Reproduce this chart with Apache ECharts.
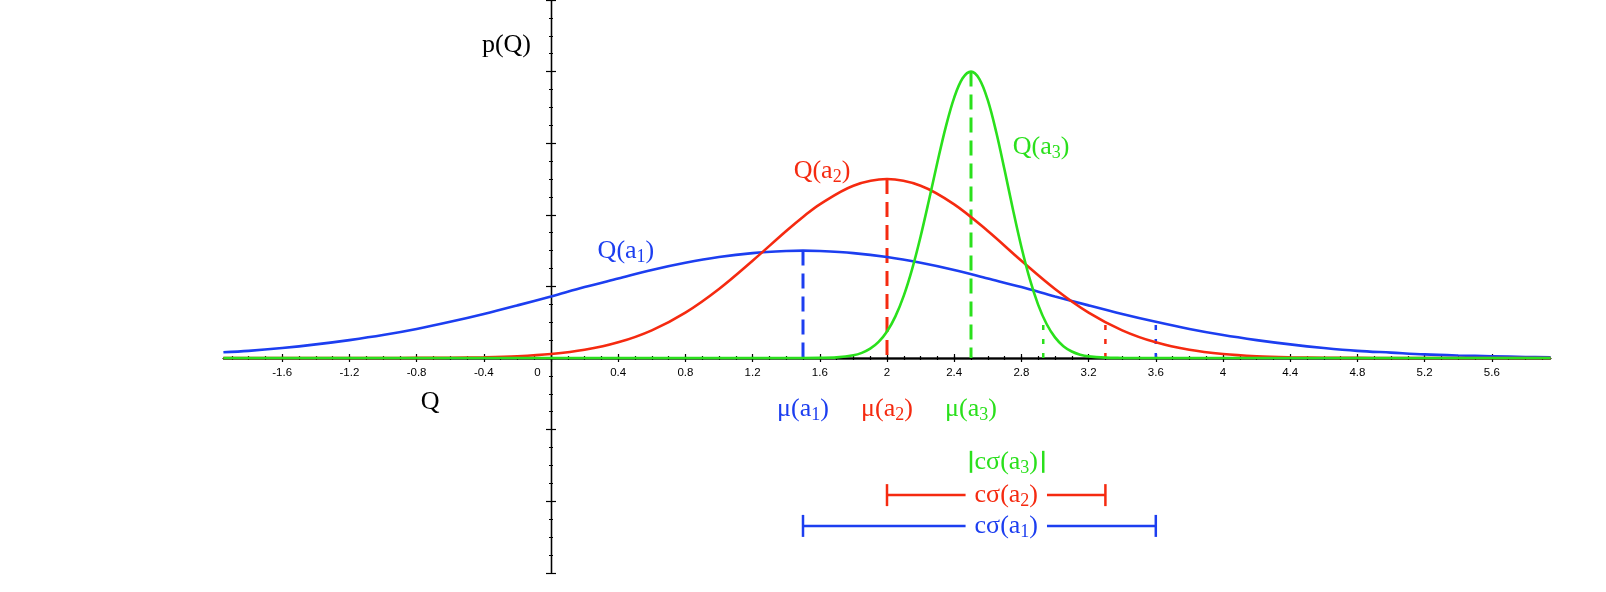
<!DOCTYPE html>
<html>
<head>
<meta charset="utf-8">
<title>p(Q)</title>
<script src="https://cdn.jsdelivr.net/npm/echarts@6/dist/echarts.min.js"></script>
<style>
    html, body { margin: 0; padding: 0; background: #fff; }
    #chart { width: 1606px; height: 592px; }
</style>
</head>
<body>
<div id="chart"></div>
<script>
// sample positions along Q
var qWide = [-1.95, -1.8, -1.6, -1.4, -1.2, -1.0, -0.8, -0.6, -0.4, -0.2,
    0, 0.2, 0.4, 0.6, 0.8, 1.0, 1.2, 1.4, 1.5, 1.6, 1.8, 2.0, 2.2, 2.4, 2.6, 2.8,
    3.0, 3.2, 3.4, 3.6, 3.8, 4.0, 4.2, 4.4, 4.6, 4.8, 5.0, 5.2, 5.4, 5.6, 5.8, 5.95];
var qNarrow = [-1.95, 1.5, 1.6, 1.7, 1.8, 1.85, 1.9, 1.95, 2.0, 2.05, 2.1, 2.15, 2.2,
    2.25, 2.3, 2.35, 2.4, 2.45, 2.5, 2.55, 2.6, 2.65, 2.7, 2.75, 2.8, 2.85, 2.9,
    2.95, 3.0, 3.05, 3.1, 3.15, 3.2, 3.3, 3.4, 3.5, 5.95];

// p(Q) (one major tick = 0.2)
var pA1 = [0.016, 0.020, 0.028, 0.038, 0.050, 0.064, 0.081, 0.101, 0.123, 0.147,
    0.172, 0.198, 0.222, 0.246, 0.266, 0.282, 0.293, 0.299, 0.300, 0.299, 0.293, 0.282,
    0.266, 0.246, 0.222, 0.198, 0.172, 0.147, 0.123, 0.101, 0.081, 0.064, 0.050, 0.038,
    0.028, 0.020, 0.015, 0.010, 0.007, 0.005, 0.003, 0.002];
var pA2 = [0, 0, 0, 0, 0, 0.0001, 0.0003, 0.0008, 0.0021, 0.0050,
    0.0111, 0.0228, 0.0437, 0.0773, 0.1269, 0.1930, 0.2718, 0.3548, 0.394, 0.4293, 0.4813, 0.500,
    0.4813, 0.4293, 0.3548, 0.2718, 0.1930, 0.1269, 0.0773, 0.0437, 0.0228, 0.0111, 0.0050, 0.0021,
    0.0008, 0.0003, 0.0001, 0, 0, 0, 0, 0];
var pA3 = [0, 0.0001, 0.0004, 0.0018, 0.0075, 0.0143, 0.0260, 0.0449, 0.0740, 0.1163, 0.1743,
    0.2491, 0.3395, 0.4412, 0.5466, 0.6457, 0.7274, 0.7812, 0.800, 0.7792, 0.7201, 0.6313,
    0.5250, 0.4143, 0.3102, 0.2203, 0.1485, 0.0949, 0.0576, 0.0331, 0.0181, 0.0094, 0.0046,
    0.0010, 0.0002, 0, 0];

var means = [1.5, 2.0, 2.5];          // mu(a_i)
var spreads = [2.1, 1.3, 0.43];       // c*sigma(a_i)
var tailHeights = [0.10, 0.10, 0.11]; // top of the dotted markers

var tickLabelValues = [-1.6, -1.2, -0.8, -0.4, 0, 0.4, 0.8, 1.2, 1.6, 2, 2.4, 2.8,
    3.2, 3.6, 4, 4.4, 4.8, 5.2, 5.6];
var minorTickValues = [];
for (var k = -19; k <= 59; k++) minorTickValues.push(k / 10);

// where the texts sit (data coords)
var curveLabelAt = [[0.446, 0.299], [1.613, 0.522], [2.917, 0.588]];
var meanLabelP = -0.1425;
var spreadRowP = [-0.469, -0.383, -0.290];
var spreadLabelQ = 2.71;
var axisNameAt = [[-0.265, 0.875], [-0.72, -0.123]];

var colors = ['#1c3ef0', '#f52a10', '#2ae01c'];
var serif = '"Liberation Serif", "Times New Roman", serif';
var sans = '"Liberation Sans", Arial, sans-serif';
var richStyle = {
    m: { fontFamily: serif, fontSize: 26, lineHeight: 30 },
    s: { fontFamily: serif, fontSize: 18, lineHeight: 13, verticalAlign: 'bottom' }
};

function pairs(qs, ps) {
    return qs.map(function (q, i) { return [q, ps[i]]; });
}
function sub(main, n) {
    return '{m|' + main + '}{s|' + n + '}{m|)}';
}
function textEl(x, y, text, color, boxed) {
    var st = {
        text: text, rich: richStyle, fill: color,
        align: 'center', verticalAlign: 'middle'
    };
    if (boxed) { st.backgroundColor = '#fff'; st.padding = [0, 9]; }
    return { type: 'text', x: x, y: y, style: st };
}

var curves = [[qWide, pA1], [qWide, pA2], [qNarrow, pA3]];
var series = [];

for (var i = 0; i < 3; i++) {
    var peakP = curves[i][1][curves[i][0].indexOf(means[i])];
    series.push({
        type: 'line', data: [[means[i], peakP], [means[i], 0]],
        symbol: 'none', silent: true, z: 2,
        lineStyle: { color: colors[i], width: 3, type: [15, 8] }
    });
    series.push({
        type: 'line', data: [[means[i] + spreads[i], 0], [means[i] + spreads[i], tailHeights[i]]],
        symbol: 'none', silent: true, z: 2,
        lineStyle: { color: colors[i], width: 2.5, type: [5, 9] }
    });
}
for (var j = 0; j < 3; j++) {
    series.push({
        type: 'line', name: 'Q(a' + (j + 1) + ')',
        data: pairs(curves[j][0], curves[j][1]),
        smooth: 0.35, symbol: 'none', silent: true, z: 3 + j,
        lineStyle: { color: colors[j], width: 2.6 }
    });
}

// labels, mu texts and c*sigma intervals
series.push({
    type: 'custom', coordinateSystem: 'cartesian2d', clip: false, silent: true, z: 10,
    data: means.map(function (m) { return [m, 0]; }),
    renderItem: function (params, api) {
        var n = params.dataIndex, c = colors[n];
        var pl = api.coord(curveLabelAt[n]);
        var pm = api.coord([means[n], meanLabelP]);
        var xa = api.coord([means[n], 0])[0];
        var xb = api.coord([means[n] + spreads[n], 0])[0];
        var yr = api.coord([0, spreadRowP[n]])[1];
        var xt = api.coord([spreadLabelQ, 0])[0];
        var ls = { stroke: c, lineWidth: 2.5 };
        return {
            type: 'group',
            children: [
                textEl(pl[0], pl[1], sub('Q(a', n + 1), c),
                textEl(pm[0], pm[1], sub('μ(a', n + 1), c),
                { type: 'line', shape: { x1: xa, y1: yr, x2: xb, y2: yr }, style: ls },
                textEl(xt, yr, sub('cσ(a', n + 1), c, true),
                { type: 'line', shape: { x1: xa, y1: yr - 11, x2: xa, y2: yr + 11 }, style: ls },
                { type: 'line', shape: { x1: xb, y1: yr - 11, x2: xb, y2: yr + 11 }, style: ls }
            ]
        };
    }
});

series.push({
    type: 'custom', coordinateSystem: 'cartesian2d', clip: false, silent: true, z: 10,
    data: axisNameAt,
    renderItem: function (params, api) {
        var p = api.coord(axisNameAt[params.dataIndex]);
        return {
            type: 'text', x: p[0], y: p[1],
            style: {
                text: ['p(Q)', 'Q'][params.dataIndex], fill: '#000',
                font: '26px ' + serif, align: 'center', verticalAlign: 'middle'
            }
        };
    }
});

function xAxisOf(position, ticks, len) {
    return {
        type: 'value', min: -1.95, max: 5.95, position: position,
        axisLine: { show: true, onZero: true, onZeroAxisIndex: 0, lineStyle: { color: '#000', width: 1.3 } },
        axisTick: { show: true, customValues: ticks, length: len, lineStyle: { color: '#000', width: 1.2 } },
        axisLabel: { show: false },
        splitLine: { show: false }
    };
}
function yAxisOf(position) {
    return {
        type: 'value', min: -0.6, max: 1.0, interval: 0.2, position: position,
        axisLine: { show: true, onZero: true, onZeroAxisIndex: 0, lineStyle: { color: '#000', width: 1.3 } },
        axisTick: { show: true, length: 5, lineStyle: { color: '#000', width: 1.2 } },
        minorTick: { show: true, splitNumber: 4, length: 2, lineStyle: { color: '#000', width: 1 } },
        axisLabel: { show: false },
        splitLine: { show: false },
        minorSplitLine: { show: false }
    };
}

var chart = echarts.init(document.getElementById('chart'));
chart.setOption({
    animation: false,
    backgroundColor: '#fff',
    grid: [
        { left: 223.4, right: 55.4, top: 0, bottom: 19.2, containLabel: false, outerBoundsMode: 'none' },
        // same x scale, bottom edge on p = 0: carries the tick labels
        { left: 223.4, right: 55.4, top: 0, height: 358, containLabel: false, outerBoundsMode: 'none' }
    ],
    xAxis: [
        xAxisOf('bottom', tickLabelValues, 4),
        xAxisOf('top', tickLabelValues, 4),
        xAxisOf('top', minorTickValues, 2),
        xAxisOf('bottom', minorTickValues, 2),
        {
            type: 'value', gridIndex: 1, min: -1.95, max: 5.95, position: 'bottom',
            axisLine: { show: false, onZero: false },
            axisTick: { show: false },
            splitLine: { show: false },
            axisLabel: {
                show: true, customValues: tickLabelValues, margin: 9,
                color: '#000', fontSize: 11.5, fontFamily: sans,
                formatter: function (v) { return v === 0 ? '{z|0}' : String(v); },
                rich: { z: { padding: [0, 27, 0, 0], fontSize: 11.5, fontFamily: sans, color: '#000' } }
            }
        }
    ],
    yAxis: [
        yAxisOf('left'),
        yAxisOf('right'),
        { type: 'value', gridIndex: 1, min: 0, max: 1, show: false, axisLine: { onZero: false } }
    ],
    series: series
});
</script>
</body>
</html>
